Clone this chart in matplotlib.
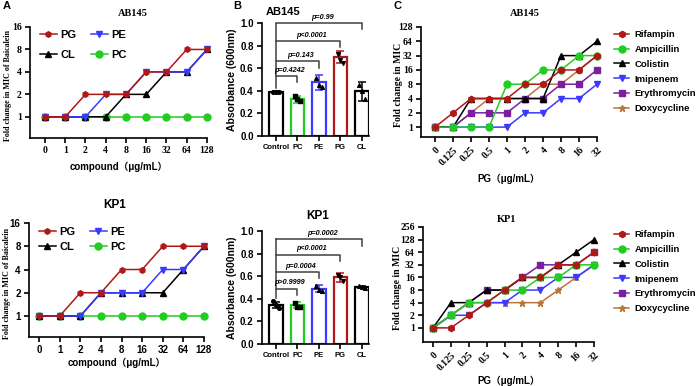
import matplotlib.pyplot as plt
from matplotlib.lines import Line2D
from matplotlib.ticker import FixedLocator, NullLocator

W, H = 696, 386
SANS = ['Liberation Sans', 'Noto Sans CJK SC']
SERIF = ['Liberation Serif', 'Noto Sans CJK SC']

RED = '#B01818'
BLUE = '#3A3AFF'
GREEN = '#22CC22'
BLACK = '#000000'
PURPLE = '#7A1FA0'
BROWN = '#B8763A'

# ---- panel A data: fold change in MIC of baicalein ----
conc_a = ['0', '1', '2', '4', '8', '16', '32', '64', '128']
ab145_pg = [1, 1, 2, 2, 2, 4, 4, 8, 8]
ab145_pe = [1, 1, 1, 2, 2, 4, 4, 4, 8]
ab145_cl = [1, 1, 1, 1, 2, 2, 4, 4, 8]
ab145_pc = [1, 1, 1, 1, 1, 1, 1, 1, 1]
kp1_pg = [1, 1, 2, 2, 4, 4, 8, 8, 8]
kp1_pe = [1, 1, 1, 2, 2, 2, 4, 4, 8]
kp1_cl = [1, 1, 1, 2, 2, 2, 2, 4, 8]
kp1_pc = [1, 1, 1, 1, 1, 1, 1, 1, 1]

# ---- panel B data: absorbance ----
groups = ['Control', 'PC', 'PE', 'PG', 'CL']
ab145_mean = [0.39, 0.325, 0.475, 0.70, 0.395]
ab145_sd = [0.004, 0.03, 0.065, 0.055, 0.085]
ab145_pts = [[0.385, 0.39, 0.392], [0.35, 0.33, 0.31], [0.51, 0.455, 0.43],
             [0.73, 0.67, 0.65], [0.45, 0.40, 0.33]]
ab145_p = ['p=0.4242', 'p=0.143', 'p<0.0001', 'p=0.99']
ab145_bracket = [0.53, 0.66, 0.84, 1.0]
kp1_mean = [0.345, 0.345, 0.49, 0.59, 0.505]
kp1_sd = [0.03, 0.03, 0.03, 0.04, 0.005]
kp1_pts = [[0.378, 0.343, 0.32], [0.367, 0.326, 0.33], [0.513, 0.478, 0.472],
           [0.613, 0.59, 0.554], [0.51, 0.507, 0.50]]
kp1_p = ['p>0.9999', 'p=0.0004', 'p<0.0001', 'p=0.0002']
kp1_bracket = [0.49, 0.636, 0.79, 0.925]

# ---- panel C data: fold change in MIC of antibiotics ----
conc_c = ['0', '0.125', '0.25', '0.5', '1', '2', '4', '8', '16', '32']
drugs = ['Rifampin', 'Ampicillin', 'Colistin', 'Imipenem', 'Erythromycin', 'Doxycycline']
ab145_rif = [1, 2, 4, 4, 4, 8, 8, 16, 16, 32]
ab145_amp = [1, 1, 1, 1, 8, 8, 16, 16, 32, 32]
ab145_col = [1, 1, 4, 4, 4, 4, 4, 32, 32, 64]
ab145_imi = [1, 1, 1, 1, 1, 2, 2, 4, 4, 8]
ab145_ery = [1, 1, 2, 2, 2, 4, 4, 8, 8, 16]
ab145_dox = [1, 1, 2, 4, 4, 4, 8, 8, 16, 32]
kp1_rif = [1, 1, 2, 4, 8, 16, 16, 32, 32, 64]
kp1_amp = [1, 2, 4, 4, 8, 8, 16, 16, 32, 32]
kp1_col = [1, 4, 4, 8, 8, 16, 16, 32, 64, 128]
kp1_imi = [1, 2, 2, 4, 4, 8, 8, 16, 16, 32]
kp1_ery = [1, 2, 4, 8, 8, 16, 32, 32, 32, 64]
kp1_dox = [1, 2, 4, 4, 4, 4, 4, 8, 16, 32]

lipid_style = {'PG': (RED, 'h', 4), 'PE': (BLUE, 'v', 4.5),
               'CL': (BLACK, '^', 4.5), 'PC': (GREEN, 'o', 5)}
drug_style = [(RED, 'h', 4.5), (GREEN, 'o', 5), (BLACK, '^', 4.5),
              (BLUE, 'v', 4.5), (PURPLE, 's', 5), (BROWN, '*', 5)]

fig = plt.figure(figsize=(W / 100, H / 100), dpi=100)


def add_ax(l, t, r, b):
    return fig.add_axes([l / W, 1 - b / H, (r - l) / W, (b - t) / H])


def style_axes(ax):
    for s in ['top', 'right']:
        ax.spines[s].set_visible(False)
    for s in ['left', 'bottom']:
        ax.spines[s].set_linewidth(1.2)
    ax.tick_params(width=1.2, length=3.5, pad=2.5)


def mic_panel(ax, xlabels, series, ylim, yticks, xlim, tickfam, rotate):
    for vals, (color, marker, ms) in series:
        ax.plot(range(len(vals)), vals, color=color, marker=marker, ms=ms,
                lw=1.1, clip_on=False, markeredgecolor=color)
    ax.set_yscale('log', base=2)
    ax.set_ylim(*ylim)
    ax.set_xlim(*xlim)
    ax.yaxis.set_major_locator(FixedLocator(yticks))
    ax.yaxis.set_minor_locator(NullLocator())
    ax.set_yticklabels([str(v) for v in yticks], family=tickfam,
                       fontweight='bold', fontsize=7)
    ax.set_xticks(range(len(xlabels)))
    if rotate:
        ax.set_xticklabels(xlabels, family=tickfam, fontweight='bold',
                           fontsize=7, rotation=45, ha='right',
                           rotation_mode='anchor')
    else:
        ax.set_xticklabels(xlabels, family=tickfam, fontweight='bold',
                           fontsize=7)
    style_axes(ax)


def labels(ax, ylab, ylab_x, xlab, xlab_y, ysize):
    ax.set_ylabel(ylab, family=SERIF, fontweight='bold', fontsize=ysize)
    ax.yaxis.set_label_coords(ylab_x, 0.47)
    ax.set_xlabel(xlab, family=SANS, fontweight='bold', fontsize=7)
    ax.xaxis.set_label_coords(0.5, xlab_y)


def lipid_legend(ax, top, spacing):
    hs = []
    for name in ['PG', 'CL', 'PE', 'PC']:
        c, m, ms = lipid_style[name]
        hs.append(Line2D([], [], color=c, marker=m, ms=ms, lw=1.1, label=name))
    ax.legend(handles=hs, ncol=2, loc='upper left', bbox_to_anchor=(0.0, top),
              frameon=False, prop={'family': SANS, 'weight': 'bold', 'size': 8},
              handlelength=1.5, handletextpad=0.35, columnspacing=1.3,
              labelspacing=spacing)


def drug_legend(y_top):
    hs = [Line2D([], [], color=c, marker=m, ms=ms, lw=1.1, label=d)
          for d, (c, m, ms) in zip(drugs, drug_style)]
    fig.legend(handles=hs, loc='upper left', bbox_to_anchor=(614 / W, 1 - y_top / H),
               frameon=False, prop={'family': SANS, 'weight': 'bold', 'size': 6.8},
               handlelength=1.6, handletextpad=0.6, labelspacing=0.62,
               borderaxespad=0, borderpad=0)


def bar_panel(ax, means, sds, pts, pvals, heights):
    colors = [BLACK, GREEN, BLUE, RED, BLACK]
    markers = ['o', 's', '^', 'v', '^']
    x = range(len(groups))
    ax.bar(x, means, width=0.62, color='white', edgecolor=colors, linewidth=1.6)
    for i in x:
        ax.errorbar(i, means[i], yerr=sds[i], color=colors[i], capsize=3,
                    elinewidth=1.1, capthick=1.1)
        offs = [-0.13, 0.0, 0.13]
        ax.scatter([i + o for o in offs], pts[i], marker=markers[i], s=7,
                   color='black', zorder=5)
    base = means[0] + sds[0] + 0.035
    ax.plot([0, 0], [base, max(heights)], color='#404040', lw=1.1)
    for j, (h, p) in enumerate(zip(heights, pvals), start=1):
        ax.plot([0, j, j], [h, h, h - 0.055], color='#404040', lw=1.1,
                clip_on=False)
        ax.text(j / 2 + 0.15, h + 0.02, p, ha='center', va='bottom',
                fontsize=5.2, style='italic', fontweight='bold', family=SANS)
    ax.set_ylim(0, 1.0)
    ax.set_xlim(-0.65, 4.33)
    ax.set_yticks([0, 0.2, 0.4, 0.6, 0.8, 1.0])
    ax.set_yticklabels(['0.0', '0.2', '0.4', '0.6', '0.8', '1.0'], family=SANS,
                       fontweight='bold', fontsize=7)
    ax.set_xticks(list(x))
    ax.set_xticklabels(groups, family=SANS, fontweight='bold', fontsize=5.5)
    ax.set_ylabel('Absorbance (600nm)', family=SANS, fontweight='bold',
                  fontsize=7.5)
    ax.yaxis.set_label_coords(-0.23, 0.5)
    style_axes(ax)


# ---- Panel A ----
axA1 = add_ax(30, 27, 207, 138)
mic_panel(axA1, conc_a,
          [(ab145_pc, lipid_style['PC']), (ab145_cl, lipid_style['CL']),
           (ab145_pe, lipid_style['PE']), (ab145_pg, lipid_style['PG'])],
          (0.52, 16), [1, 2, 4, 8, 16], (-0.74, 8), SERIF, False)
labels(axA1, 'Fold change in MIC of Baicalein', -0.10,
       'compound（μg/mL）', -0.21, 5.8)
lipid_legend(axA1, 1.06, 0.85)
fig.text(133 / W, 1 - 14 / H, 'AB145', family=SERIF, fontweight='bold',
         fontsize=7.5, ha='center', va='center')

axA2 = add_ax(29, 223, 204, 337)
mic_panel(axA2, conc_a,
          [(kp1_pc, lipid_style['PC']), (kp1_cl, lipid_style['CL']),
           (kp1_pe, lipid_style['PE']), (kp1_pg, lipid_style['PG'])],
          (0.535, 16), [1, 2, 4, 8, 16], (-0.49, 8), SANS, False)
labels(axA2, 'Fold change in MIC of Baicalein', -0.10,
       'compound（μg/mL）', -0.18, 5.8)
lipid_legend(axA2, 1.05, 0.4)
fig.text(115 / W, 1 - 205 / H, 'KP1', family=SANS, fontweight='bold',
         fontsize=8.5, ha='center', va='center')

# ---- Panel B ----
axB1 = add_ax(262, 23, 369, 136)
bar_panel(axB1, ab145_mean, ab145_sd, ab145_pts, ab145_p, ab145_bracket)
fig.text(283 / W, 1 - 12 / H, 'AB145', family=SANS, fontweight='bold',
         fontsize=8, ha='center', va='center')

axB2 = add_ax(262, 231, 369, 344)
bar_panel(axB2, kp1_mean, kp1_sd, kp1_pts, kp1_p, kp1_bracket)
fig.text(318 / W, 1 - 216 / H, 'KP1', family=SANS, fontweight='bold',
         fontsize=8.5, ha='center', va='center')

# ---- Panel C ----
axC1 = add_ax(421, 27, 597, 137)
ab145_drugs = [ab145_rif, ab145_amp, ab145_col, ab145_imi, ab145_ery, ab145_dox]
mic_panel(axC1, conc_c, list(zip(ab145_drugs, drug_style))[::-1],
          (0.62, 128), [1, 2, 4, 8, 16, 32, 64, 128], (-0.78, 9), SERIF, True)
labels(axC1, 'Fold change in MIC', -0.10, 'PG（μg/mL）', -0.33, 7)
fig.text(525 / W, 1 - 14 / H, 'AB145', family=SERIF, fontweight='bold',
         fontsize=7.5, ha='center', va='center')
drug_legend(30)

axC2 = add_ax(423, 227, 594, 342)
kp1_drugs = [kp1_rif, kp1_amp, kp1_col, kp1_imi, kp1_ery, kp1_dox]
mic_panel(axC2, conc_c, list(zip(kp1_drugs, drug_style))[::-1],
          (0.46, 256), [1, 2, 4, 8, 16, 32, 64, 128, 256], (-0.56, 9), SERIF, True)
labels(axC2, 'Fold change in MIC', -0.125, 'PG（μg/mL）', -0.29, 7)
fig.text(507 / W, 1 - 219 / H, 'KP1', family=SERIF, fontweight='bold',
         fontsize=7.5, ha='center', va='center')
drug_legend(230)

# panel letters
for x, lab in [(3, 'A'), (233, 'B'), (393, 'C')]:
    fig.text(x / W, 1 - 6 / H, lab, family=SANS, fontweight='bold',
             fontsize=8, ha='left', va='center')

fig.savefig('out.png', dpi=100)
